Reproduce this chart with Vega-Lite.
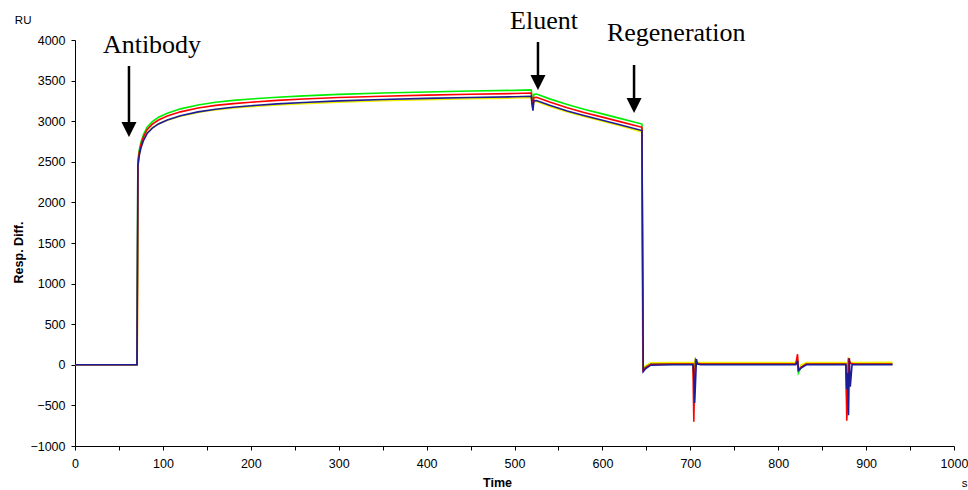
{
  "$schema": "https://vega.github.io/schema/vega-lite/v6.json",
  "width": 879,
  "height": 406,
  "autosize": {"type": "none"},
  "padding": {"left": 75, "top": 40, "right": 14, "bottom": 44},
  "background": "white",
  "config": {
    "view": {"stroke": null},
    "axis": {
      "grid": false,
      "domainColor": "#000",
      "domainWidth": 1,
      "tickColor": "#000",
      "tickSize": 4,
      "labelColor": "#000",
      "labelFont": "Liberation Sans",
      "labelFontSize": 12.5,
      "titleFont": "Liberation Sans",
      "titleFontSize": 12.5,
      "titleFontWeight": "bold",
      "titleColor": "#000"
    }
  },
  "datasets": {
    "curves": [
      {"s": "Y", "t": 0, "ru": 0}, {"s": "Y", "t": 70.8, "ru": 0}, {"s": "Y", "t": 71.8, "ru": 2440}, {"s": "Y", "t": 73, "ru": 2580},
      {"s": "Y", "t": 75, "ru": 2680}, {"s": "Y", "t": 78, "ru": 2775}, {"s": "Y", "t": 82, "ru": 2855}, {"s": "Y", "t": 88, "ru": 2920},
      {"s": "Y", "t": 95, "ru": 2968}, {"s": "Y", "t": 105, "ru": 3013}, {"s": "Y", "t": 120, "ru": 3062}, {"s": "Y", "t": 140, "ru": 3108},
      {"s": "Y", "t": 160, "ru": 3140}, {"s": "Y", "t": 180, "ru": 3162}, {"s": "Y", "t": 200, "ru": 3179}, {"s": "Y", "t": 230, "ru": 3200},
      {"s": "Y", "t": 260, "ru": 3217}, {"s": "Y", "t": 300, "ru": 3235}, {"s": "Y", "t": 350, "ru": 3252}, {"s": "Y", "t": 400, "ru": 3265},
      {"s": "Y", "t": 450, "ru": 3276}, {"s": "Y", "t": 500, "ru": 3285}, {"s": "Y", "t": 519, "ru": 3291}, {"s": "Y", "t": 520, "ru": 3220},
      {"s": "Y", "t": 521, "ru": 3180}, {"s": "Y", "t": 522, "ru": 3240}, {"s": "Y", "t": 525, "ru": 3242}, {"s": "Y", "t": 540, "ru": 3182},
      {"s": "Y", "t": 560, "ru": 3113}, {"s": "Y", "t": 580, "ru": 3054}, {"s": "Y", "t": 600, "ru": 2999}, {"s": "Y", "t": 620, "ru": 2945},
      {"s": "Y", "t": 645, "ru": 2868}, {"s": "Y", "t": 646, "ru": -40}, {"s": "Y", "t": 649, "ru": -10}, {"s": "Y", "t": 655, "ru": 25},
      {"s": "Y", "t": 680, "ru": 28}, {"s": "Y", "t": 703, "ru": 28}, {"s": "Y", "t": 704, "ru": -60}, {"s": "Y", "t": 705, "ru": -20},
      {"s": "Y", "t": 706, "ru": 70}, {"s": "Y", "t": 708, "ru": 30}, {"s": "Y", "t": 712, "ru": 28}, {"s": "Y", "t": 760, "ru": 28},
      {"s": "Y", "t": 820, "ru": 28}, {"s": "Y", "t": 822, "ru": 60}, {"s": "Y", "t": 823, "ru": -40}, {"s": "Y", "t": 826, "ru": 0},
      {"s": "Y", "t": 832, "ru": 28}, {"s": "Y", "t": 877, "ru": 28}, {"s": "Y", "t": 878, "ru": -200}, {"s": "Y", "t": 879, "ru": -80},
      {"s": "Y", "t": 880, "ru": 70}, {"s": "Y", "t": 882, "ru": 30}, {"s": "Y", "t": 886, "ru": 28}, {"s": "Y", "t": 930, "ru": 30},

      {"s": "G", "t": 0, "ru": 0}, {"s": "G", "t": 70.5, "ru": 0}, {"s": "G", "t": 71.5, "ru": 2520}, {"s": "G", "t": 73, "ru": 2640},
      {"s": "G", "t": 75, "ru": 2740}, {"s": "G", "t": 78, "ru": 2840}, {"s": "G", "t": 82, "ru": 2925}, {"s": "G", "t": 88, "ru": 2995},
      {"s": "G", "t": 95, "ru": 3048}, {"s": "G", "t": 105, "ru": 3098}, {"s": "G", "t": 120, "ru": 3152}, {"s": "G", "t": 140, "ru": 3200},
      {"s": "G", "t": 160, "ru": 3233}, {"s": "G", "t": 180, "ru": 3256}, {"s": "G", "t": 200, "ru": 3273}, {"s": "G", "t": 230, "ru": 3295},
      {"s": "G", "t": 260, "ru": 3312}, {"s": "G", "t": 300, "ru": 3330}, {"s": "G", "t": 350, "ru": 3347}, {"s": "G", "t": 400, "ru": 3360},
      {"s": "G", "t": 450, "ru": 3371}, {"s": "G", "t": 500, "ru": 3380}, {"s": "G", "t": 519, "ru": 3386}, {"s": "G", "t": 520, "ru": 3300},
      {"s": "G", "t": 521, "ru": 3200}, {"s": "G", "t": 522, "ru": 3330}, {"s": "G", "t": 525, "ru": 3335}, {"s": "G", "t": 540, "ru": 3275},
      {"s": "G", "t": 560, "ru": 3205}, {"s": "G", "t": 580, "ru": 3145}, {"s": "G", "t": 600, "ru": 3090}, {"s": "G", "t": 620, "ru": 3035},
      {"s": "G", "t": 645, "ru": 2965}, {"s": "G", "t": 646, "ru": -60}, {"s": "G", "t": 649, "ru": -30}, {"s": "G", "t": 655, "ru": 8},
      {"s": "G", "t": 680, "ru": 12}, {"s": "G", "t": 703, "ru": 12}, {"s": "G", "t": 704, "ru": -180}, {"s": "G", "t": 705, "ru": -60},
      {"s": "G", "t": 706, "ru": 70}, {"s": "G", "t": 708, "ru": 20}, {"s": "G", "t": 712, "ru": 12}, {"s": "G", "t": 760, "ru": 12},
      {"s": "G", "t": 820, "ru": 12}, {"s": "G", "t": 822, "ru": 40}, {"s": "G", "t": 823, "ru": -100}, {"s": "G", "t": 826, "ru": -30},
      {"s": "G", "t": 832, "ru": 12}, {"s": "G", "t": 877, "ru": 12}, {"s": "G", "t": 878, "ru": -450}, {"s": "G", "t": 879, "ru": -200},
      {"s": "G", "t": 880, "ru": 60}, {"s": "G", "t": 882, "ru": 20}, {"s": "G", "t": 886, "ru": 12}, {"s": "G", "t": 930, "ru": 12},

      {"s": "R", "t": 0, "ru": 0}, {"s": "R", "t": 70.7, "ru": 0}, {"s": "R", "t": 71.7, "ru": 2480}, {"s": "R", "t": 73, "ru": 2610},
      {"s": "R", "t": 75, "ru": 2712}, {"s": "R", "t": 78, "ru": 2810}, {"s": "R", "t": 82, "ru": 2895}, {"s": "R", "t": 88, "ru": 2963},
      {"s": "R", "t": 95, "ru": 3015}, {"s": "R", "t": 105, "ru": 3063}, {"s": "R", "t": 120, "ru": 3115}, {"s": "R", "t": 140, "ru": 3162},
      {"s": "R", "t": 160, "ru": 3195}, {"s": "R", "t": 180, "ru": 3217}, {"s": "R", "t": 200, "ru": 3234}, {"s": "R", "t": 230, "ru": 3256},
      {"s": "R", "t": 260, "ru": 3273}, {"s": "R", "t": 300, "ru": 3291}, {"s": "R", "t": 350, "ru": 3308}, {"s": "R", "t": 400, "ru": 3321},
      {"s": "R", "t": 450, "ru": 3332}, {"s": "R", "t": 500, "ru": 3341}, {"s": "R", "t": 519, "ru": 3347}, {"s": "R", "t": 520, "ru": 3250},
      {"s": "R", "t": 521, "ru": 3160}, {"s": "R", "t": 522, "ru": 3290}, {"s": "R", "t": 525, "ru": 3295}, {"s": "R", "t": 540, "ru": 3235},
      {"s": "R", "t": 560, "ru": 3165}, {"s": "R", "t": 580, "ru": 3105}, {"s": "R", "t": 600, "ru": 3050}, {"s": "R", "t": 620, "ru": 2995},
      {"s": "R", "t": 645, "ru": 2925}, {"s": "R", "t": 646.3, "ru": -70}, {"s": "R", "t": 649, "ru": -35}, {"s": "R", "t": 655, "ru": 5},
      {"s": "R", "t": 680, "ru": 10}, {"s": "R", "t": 703, "ru": 10}, {"s": "R", "t": 704, "ru": -700}, {"s": "R", "t": 705, "ru": -100},
      {"s": "R", "t": 706, "ru": 60}, {"s": "R", "t": 708, "ru": 18}, {"s": "R", "t": 712, "ru": 10}, {"s": "R", "t": 760, "ru": 10},
      {"s": "R", "t": 820, "ru": 10}, {"s": "R", "t": 822, "ru": 130}, {"s": "R", "t": 823, "ru": -60}, {"s": "R", "t": 826, "ru": -30},
      {"s": "R", "t": 832, "ru": 10}, {"s": "R", "t": 877, "ru": 10}, {"s": "R", "t": 878, "ru": -690}, {"s": "R", "t": 879, "ru": -400},
      {"s": "R", "t": 880, "ru": 80}, {"s": "R", "t": 882, "ru": 20}, {"s": "R", "t": 886, "ru": 10}, {"s": "R", "t": 930, "ru": 10},

      {"s": "N", "t": 0, "ru": 0}, {"s": "N", "t": 70.5, "ru": 0}, {"s": "N", "t": 71.5, "ru": 2440}, {"s": "N", "t": 73, "ru": 2570},
      {"s": "N", "t": 75, "ru": 2670}, {"s": "N", "t": 78, "ru": 2765}, {"s": "N", "t": 82, "ru": 2848}, {"s": "N", "t": 88, "ru": 2915},
      {"s": "N", "t": 95, "ru": 2966}, {"s": "N", "t": 105, "ru": 3015}, {"s": "N", "t": 120, "ru": 3067}, {"s": "N", "t": 140, "ru": 3115},
      {"s": "N", "t": 160, "ru": 3148}, {"s": "N", "t": 180, "ru": 3172}, {"s": "N", "t": 200, "ru": 3190}, {"s": "N", "t": 230, "ru": 3213},
      {"s": "N", "t": 260, "ru": 3231}, {"s": "N", "t": 300, "ru": 3250}, {"s": "N", "t": 350, "ru": 3267}, {"s": "N", "t": 400, "ru": 3281},
      {"s": "N", "t": 450, "ru": 3292}, {"s": "N", "t": 500, "ru": 3301}, {"s": "N", "t": 519, "ru": 3307}, {"s": "N", "t": 520, "ru": 3200},
      {"s": "N", "t": 521, "ru": 3130}, {"s": "N", "t": 522, "ru": 3250}, {"s": "N", "t": 525, "ru": 3255}, {"s": "N", "t": 540, "ru": 3195},
      {"s": "N", "t": 560, "ru": 3126}, {"s": "N", "t": 580, "ru": 3067}, {"s": "N", "t": 600, "ru": 3012}, {"s": "N", "t": 620, "ru": 2957},
      {"s": "N", "t": 645, "ru": 2885}, {"s": "N", "t": 646.5, "ru": -85}, {"s": "N", "t": 649, "ru": -50}, {"s": "N", "t": 655, "ru": -5},
      {"s": "N", "t": 680, "ru": 0}, {"s": "N", "t": 703, "ru": 0}, {"s": "N", "t": 704, "ru": -100}, {"s": "N", "t": 705, "ru": -470},
      {"s": "N", "t": 706, "ru": -200}, {"s": "N", "t": 707, "ru": 70}, {"s": "N", "t": 708, "ru": 10}, {"s": "N", "t": 712, "ru": 0},
      {"s": "N", "t": 760, "ru": 0}, {"s": "N", "t": 820, "ru": 0}, {"s": "N", "t": 822, "ru": 50}, {"s": "N", "t": 823, "ru": -70},
      {"s": "N", "t": 826, "ru": -40}, {"s": "N", "t": 832, "ru": 0}, {"s": "N", "t": 877, "ru": 0}, {"s": "N", "t": 878, "ru": -300},
      {"s": "N", "t": 879, "ru": -100}, {"s": "N", "t": 880, "ru": -620}, {"s": "N", "t": 881, "ru": 80}, {"s": "N", "t": 882, "ru": -270},
      {"s": "N", "t": 884, "ru": 0}, {"s": "N", "t": 930, "ru": 0}
    ],
    "arrows": [
      {"event": "Antibody", "t": 61.4, "top": 3680, "bottom": 2953, "head": 2898, "labelT": 87.6, "labelRu": 3840},
      {"event": "Eluent", "t": 526.7, "top": 3975, "bottom": 3532, "head": 3477, "labelT": 533.6, "labelRu": 4135},
      {"event": "Regeneration", "t": 636, "top": 3692, "bottom": 3261, "head": 3193, "labelT": 684, "labelRu": 3988}
    ],
    "units": [
      {"unit": "RU", "t": -59, "ru": 4200},
      {"unit": "s", "t": 1012, "ru": -1505}
    ]
  },
  "layer": [
    {
      "data": {"name": "curves"},
      "mark": {"type": "line", "strokeWidth": 1.6, "interpolate": "linear"},
      "encoding": {
        "x": {
          "field": "t", "type": "quantitative",
          "scale": {"domain": [0, 1000], "nice": false, "zero": false},
          "axis": {
            "title": "Time",
            "titleX": 422, "titleY": 40, "titleBaseline": "alphabetic",
            "values": [0, 50, 100, 150, 200, 250, 300, 350, 400, 450, 500, 550, 600, 650, 700, 750, 800, 850, 900, 950, 1000],
            "format": "d",
            "labelExpr": "datum.value % 100 === 0 ? datum.label : ''",
            "labelPadding": 7,
            "labelFlush": false,
            "labelOverlap": false
          }
        },
        "y": {
          "field": "ru", "type": "quantitative",
          "scale": {"domain": [-1000, 4000], "nice": false, "zero": false},
          "axis": {
            "title": "Resp. Diff.",
            "titleX": -53, "titleY": 212, "titleAngle": -90, "titleAlign": "center", "titleBaseline": "alphabetic",
            "values": [-1000, -750, -500, -250, 0, 250, 500, 750, 1000, 1250, 1500, 1750, 2000, 2250, 2500, 2750, 3000, 3250, 3500, 3750, 4000],
            "labelExpr": "datum.value % 500 === 0 ? datum.label : ''",
            "format": "d",
            "labelPadding": 6,
            "labelOverlap": false
          }
        },
        "color": {
          "field": "s", "type": "nominal",
          "scale": {"domain": ["Y", "G", "R", "N"], "range": ["#f2f200", "#00ee00", "#ff0000", "#1c1c96"]},
          "legend": null
        },
        "order": {"field": "t", "type": "quantitative"}
      }
    },
    {
      "data": {"name": "arrows"},
      "mark": {"type": "rule", "strokeWidth": 2.5, "color": "#000"},
      "encoding": {
        "x": {"field": "t", "type": "quantitative"},
        "y": {"field": "top", "type": "quantitative"},
        "y2": {"field": "bottom"}
      }
    },
    {
      "data": {"name": "arrows"},
      "mark": {"type": "point", "shape": "M-1,-1L1,-1L0,1Z", "size": 225, "filled": true, "color": "#000", "opacity": 1},
      "encoding": {
        "x": {"field": "t", "type": "quantitative"},
        "y": {"field": "head", "type": "quantitative"}
      }
    },
    {
      "data": {"name": "arrows"},
      "mark": {"type": "text", "font": "Liberation Serif", "fontSize": 26, "align": "center", "baseline": "alphabetic", "color": "#000"},
      "encoding": {
        "x": {"field": "labelT", "type": "quantitative"},
        "y": {"field": "labelRu", "type": "quantitative"},
        "text": {"field": "event"}
      }
    },
    {
      "data": {"name": "units"},
      "mark": {"type": "text", "font": "Liberation Sans", "fontSize": 11.5, "align": "center", "baseline": "alphabetic", "color": "#000"},
      "encoding": {
        "x": {"field": "t", "type": "quantitative"},
        "y": {"field": "ru", "type": "quantitative"},
        "text": {"field": "unit"}
      }
    }
  ]
}
